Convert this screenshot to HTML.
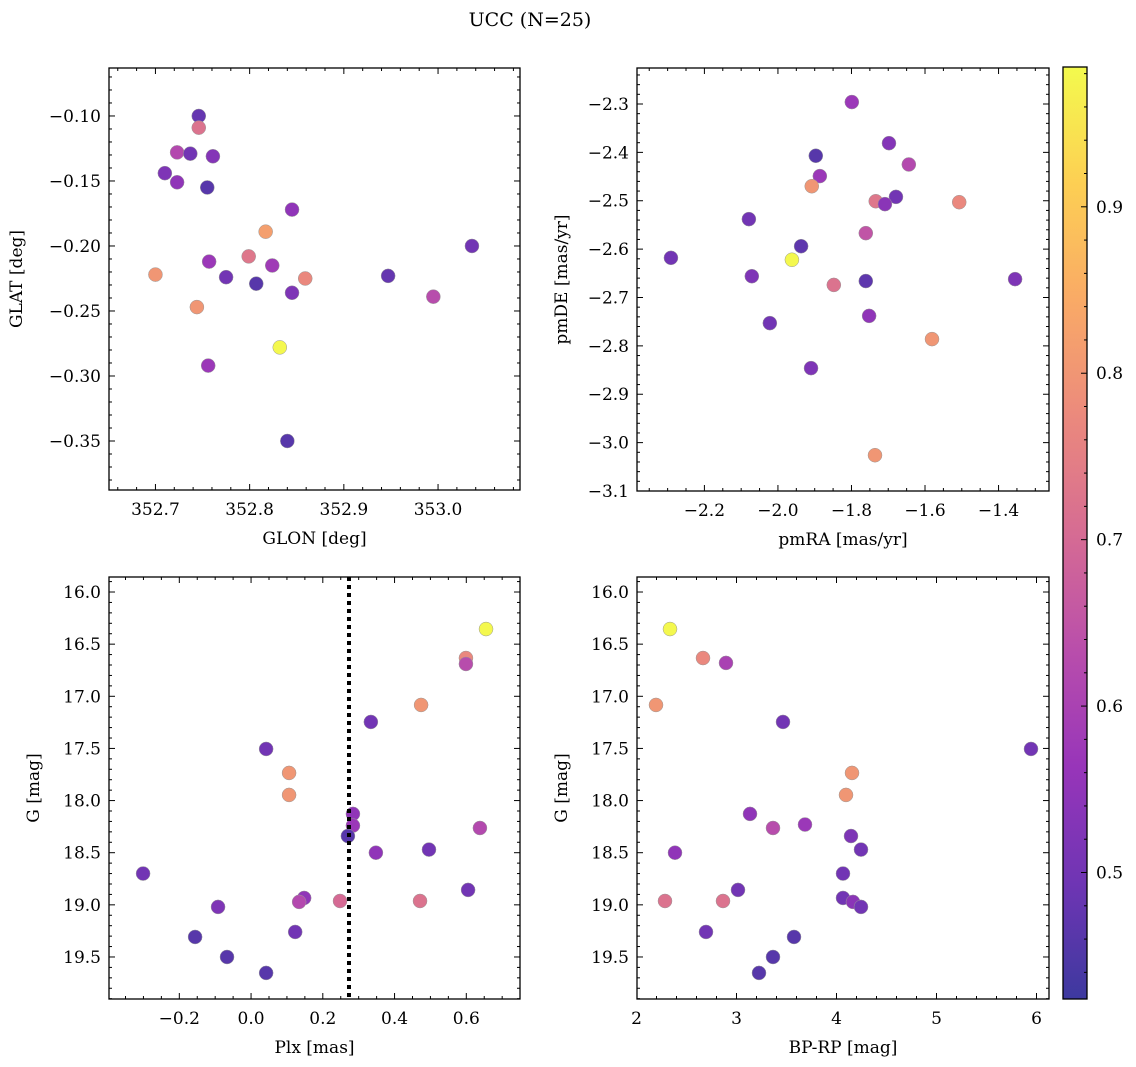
<!DOCTYPE html>
<html><head><meta charset="utf-8"><style>
html,body{margin:0;padding:0;background:#fff;}
svg{display:block;font-family:"DejaVu Serif","Liberation Serif",serif;}
</style></head><body>
<svg id="fig" xmlns="http://www.w3.org/2000/svg" width="1136" height="1067" viewBox="0 0 1136 1067">
<text x="530" y="26" font-size="19" text-anchor="middle">UCC (N=25)</text>
</svg>
<script>
// Panel 1: GLON vs GLAT
const glon1 = [352.746,352.746,352.723,352.737,352.761,352.710,352.723,352.755,352.845,352.817,353.036,352.799,352.757,352.824,352.700,352.775,352.859,352.947,352.807,352.845,352.995,352.744,352.832,352.756,352.840];
const glat1 = [-0.100,-0.109,-0.128,-0.129,-0.131,-0.144,-0.151,-0.155,-0.172,-0.189,-0.200,-0.208,-0.212,-0.215,-0.222,-0.224,-0.225,-0.223,-0.229,-0.236,-0.239,-0.247,-0.278,-0.292,-0.350];
const prob1 = [0.48,0.72,0.62,0.50,0.53,0.52,0.55,0.46,0.55,0.82,0.50,0.73,0.57,0.58,0.80,0.50,0.77,0.48,0.46,0.52,0.63,0.80,0.98,0.57,0.46];
// Panel 2: pmRA vs pmDE
const pmra2 = [-1.799,-1.698,-1.897,-1.644,-1.886,-1.908,-1.679,-1.734,-1.709,-1.507,-2.079,-1.761,-1.937,-2.291,-1.962,-2.071,-1.355,-1.761,-1.848,-1.752,-2.022,-1.581,-1.910,-1.736];
const pmde2 = [-2.296,-2.381,-2.407,-2.425,-2.449,-2.470,-2.492,-2.501,-2.507,-2.503,-2.538,-2.567,-2.594,-2.618,-2.622,-2.656,-2.662,-2.666,-2.674,-2.738,-2.753,-2.786,-2.846,-3.026];
const prob2 = [0.57,0.53,0.46,0.62,0.57,0.80,0.50,0.73,0.54,0.77,0.50,0.65,0.47,0.50,0.98,0.52,0.52,0.47,0.72,0.55,0.50,0.80,0.52,0.80];
// Panel 3: Plx vs G
const plx3 = [0.655,0.599,0.599,0.474,0.334,0.042,0.106,0.106,0.284,0.284,0.638,0.270,0.496,0.348,-0.301,0.605,0.148,0.134,0.471,0.248,-0.092,0.123,-0.156,-0.067,0.042];
const g3 = [16.355,16.633,16.69,17.083,17.246,17.505,17.735,17.946,18.128,18.24,18.263,18.34,18.47,18.50,18.70,18.857,18.934,18.972,18.963,18.963,19.02,19.26,19.308,19.5,19.653];
const prob3 = [0.98,0.77,0.63,0.80,0.50,0.50,0.80,0.80,0.55,0.57,0.62,0.46,0.50,0.55,0.50,0.50,0.55,0.62,0.72,0.70,0.52,0.50,0.46,0.46,0.46];
const plxLine = [0.273];
// Panel 4: BP-RP vs G
const bprp4 = [2.335,2.665,2.895,2.195,3.465,5.945,4.155,4.095,3.135,3.685,3.365,4.145,4.245,2.385,4.065,3.015,4.065,4.165,2.285,2.865,4.245,2.695,3.575,3.365,3.225];
const g4 = [16.355,16.633,16.68,17.083,17.246,17.505,17.735,17.946,18.128,18.23,18.263,18.34,18.47,18.50,18.70,18.857,18.934,18.972,18.963,18.963,19.02,19.26,19.308,19.5,19.653];
const prob4 = [0.98,0.77,0.60,0.80,0.50,0.50,0.80,0.80,0.55,0.57,0.63,0.52,0.50,0.55,0.50,0.50,0.50,0.54,0.72,0.72,0.50,0.50,0.46,0.46,0.46];
// Tick labels
const ticks1x = [352.7,352.8,352.9,353.0];
const ticks1y = [-0.10,-0.15,-0.20,-0.25,-0.30,-0.35];
const ticks2x = [-2.2,-2.0,-1.8,-1.6,-1.4];
const ticks2y = [-2.3,-2.4,-2.5,-2.6,-2.7,-2.8,-2.9,-3.0,-3.1];
const ticks3x = [-0.2,0.0,0.2,0.4,0.6];
const ticksGy = [16.0,16.5,17.0,17.5,18.0,18.5,19.0,19.5];
const ticks4x = [2,3,4,5,6];
const cbTicks = [0.5,0.6,0.7,0.8,0.9];
const cbMin = 0.424, cbMax = 0.984;

const NS = "http://www.w3.org/2000/svg";
const svg = document.getElementById('fig');
function mk(tag, attrs, parent){
  const e = document.createElementNS(NS, tag);
  for (const k in attrs) e.setAttribute(k, attrs[k]);
  (parent||svg).appendChild(e);
  return e;
}
const plasma = [[0,[13,8,135]],[0.125,[75,3,161]],[0.25,[126,3,168]],[0.375,[168,34,150]],[0.5,[204,71,120]],[0.625,[230,108,92]],[0.75,[248,149,64]],[0.875,[253,195,40]],[1,[240,249,33]]];
const ALPHA = 0.8;
function cmap(t){
  t=Math.max(0,Math.min(1,t));
  for(let i=1;i<plasma.length;i++){
    if(t<=plasma[i][0]){
      const a=plasma[i-1],b=plasma[i],f=(t-a[0])/(b[0]-a[0]);
      const c=a[1].map((v,j)=>Math.round((v+(b[1][j]-v)*f)*ALPHA+255*(1-ALPHA)));
      return 'rgb('+c.join(',')+')';
    }
  }
  return 'rgb(243,250,77)';
}
function cval(p){ return cmap((p-cbMin)/(cbMax-cbMin)); }
function fmt(v,d){ const s=v.toFixed(d); return s.replace('-', '\u2212'); }

function panel(o){
  const g = mk('g', {});
  
  
  const X = v => o.L + (v-o.x0)/(o.x1-o.x0)*(o.R-o.L);
  const Y = v => o.T + (v-o.y0)/(o.y1-o.y0)*(o.B-o.T);
  const tg = mk('g', {stroke:'#000','stroke-width':1}, g);
  
  
  const xs = Math.min(o.x0,o.x1), xe = Math.max(o.x0,o.x1);
  for (let v = Math.ceil(xs/o.xmin-1e-6)*o.xmin; v <= xe+1e-9; v += o.xmin){
    const isMaj = Math.abs(v/o.xmaj - Math.round(v/o.xmaj)) < 1e-6;
    const len = isMaj?6:3, x = X(v);
    mk('line',{x1:x,x2:x,y1:o.B,y2:o.B-len},tg);
    mk('line',{x1:x,x2:x,y1:o.T,y2:o.T+len},tg);
  }
  const ys = Math.min(o.y0,o.y1), ye = Math.max(o.y0,o.y1);
  for (let v = Math.ceil(ys/o.ymin-1e-6)*o.ymin; v <= ye+1e-9; v += o.ymin){
    const isMaj = Math.abs(v/o.ymaj - Math.round(v/o.ymaj)) < 1e-6;
    const len = isMaj?6:3, y = Y(v);
    mk('line',{x1:o.L,x2:o.L+len,y1:y,y2:y},tg);
    mk('line',{x1:o.R,x2:o.R-len,y1:y,y2:y},tg);
  }
  o.xt.forEach(v=>{
    const t = mk('text',{x:X(v),y:o.B+25,'font-size':17,'text-anchor':'middle'},g);
    t.textContent = fmt(v,o.xd);
    
    
  });
  o.yt.forEach(v=>{
    const t = mk('text',{x:o.L-8,y:Y(v)+6,'font-size':17,'text-anchor':'end'},g);
    t.textContent = fmt(v,o.yd);
    
    
  });
  const xl = mk('text',{x:(o.L+o.R)/2,y:o.B+54,'font-size':17,'text-anchor':'middle'},g);
  xl.textContent = o.xlab;
  
  
  const yl = mk('text',{x:0,y:0,'font-size':17,'text-anchor':'middle',transform:'translate('+o.ylx+','+((o.T+o.B)/2)+') rotate(-90)'},g);
  yl.textContent = o.ylab;
  
  
  const clip = 'clip-'+o.name;
  const cp = mk('clipPath',{id:clip},g);
  mk('rect',{x:o.L,y:o.T,width:o.R-o.L,height:o.B-o.T},cp);
  const pg = mk('g',{'clip-path':'url(#'+clip+')'},g);
  o.xs.forEach((xv,i)=>{
    const c = mk('circle',{cx:X(xv),cy:Y(o.ys[i]),r:7,fill:cval(o.cs[i]),stroke:'#999','stroke-width':0.5},pg);
    
    
  });
  if (o.vline){
    o.vline.forEach(v=>{
      const l = mk('line',{x1:X(v),x2:X(v),y1:o.T,y2:o.B,stroke:'#000','stroke-width':4,'stroke-dasharray':'4,4'},pg);
      
      
    });
  }
  const fr = mk('rect',{x:o.L,y:o.T,width:o.R-o.L,height:o.B-o.T,fill:'none',stroke:'#000','stroke-width':1.3},g);
  
  
}

panel({name:'glon-glat-panel',L:109,R:520,T:68,B:490,x0:352.6507,x1:353.0870,y0:-0.0631,y1:-0.3877,
  xmaj:0.1,xmin:0.02,ymaj:0.05,ymin:0.01,xt:ticks1x,yt:ticks1y,xd:1,yd:2,
  xlab:'GLON [deg]',ylab:'GLAT [deg]',ylx:22,xs:glon1,ys:glat1,cs:prob1});
panel({name:'pm-panel',L:637,R:1049,T:68,B:491,x0:-2.3833,x1:-1.2628,y0:-2.2256,y1:-3.1,
  xmaj:0.2,xmin:0.05,ymaj:0.1,ymin:0.02,xt:ticks2x,yt:ticks2y,xd:1,yd:1,
  xlab:'pmRA [mas/yr]',ylab:'pmDE [mas/yr]',ylx:567,xs:pmra2,ys:pmde2,cs:prob2});
panel({name:'plx-g-panel',L:109,R:520,T:577,B:999,x0:-0.396,x1:0.7497,y0:15.856,y1:19.903,
  xmaj:0.2,xmin:0.05,ymaj:0.5,ymin:0.1,xt:ticks3x,yt:ticksGy,xd:1,yd:1,
  xlab:'Plx [mas]',ylab:'G [mag]',ylx:39,xs:plx3,ys:g3,cs:prob3,vline:plxLine});
panel({name:'cmd-panel',L:637,R:1049,T:577,B:999,x0:2.005,x1:6.125,y0:15.856,y1:19.903,
  xmaj:1,xmin:0.2,ymaj:0.5,ymin:0.1,xt:ticks4x,yt:ticksGy,xd:0,yd:1,
  xlab:'BP-RP [mag]',ylab:'G [mag]',ylx:567,xs:bprp4,ys:g4,cs:prob4});

const cb = mk('g',{});


const defs = mk('defs',{},cb);
const lg = mk('linearGradient',{id:'cbgrad',x1:0,y1:1,x2:0,y2:0},defs);
for(let i=0;i<=32;i++){ mk('stop',{offset:(i/32),'stop-color':cmap(i/32)},lg); }
const CT=67, CB=999, CL=1063, CR=1087;
mk('rect',{x:CL,y:CT,width:CR-CL,height:CB-CT,fill:'url(#cbgrad)',stroke:'#000','stroke-width':1.3},cb);
const CY = v => CB - (v-cbMin)/(cbMax-cbMin)*(CB-CT);
for(let v=0.44; v<cbMax; v+=0.02){
  const isMaj = Math.abs(v*10-Math.round(v*10))<1e-6;
  mk('line',{x1:CR,x2:CR-(isMaj?6:3),y1:CY(v),y2:CY(v),stroke:'#000','stroke-width':1},cb);
}
cbTicks.forEach(v=>{
  const t = mk('text',{x:CR+9,y:CY(v)+6,'font-size':17},cb);
  t.textContent = v.toFixed(1);
  
  
});
</script>
</body></html>
